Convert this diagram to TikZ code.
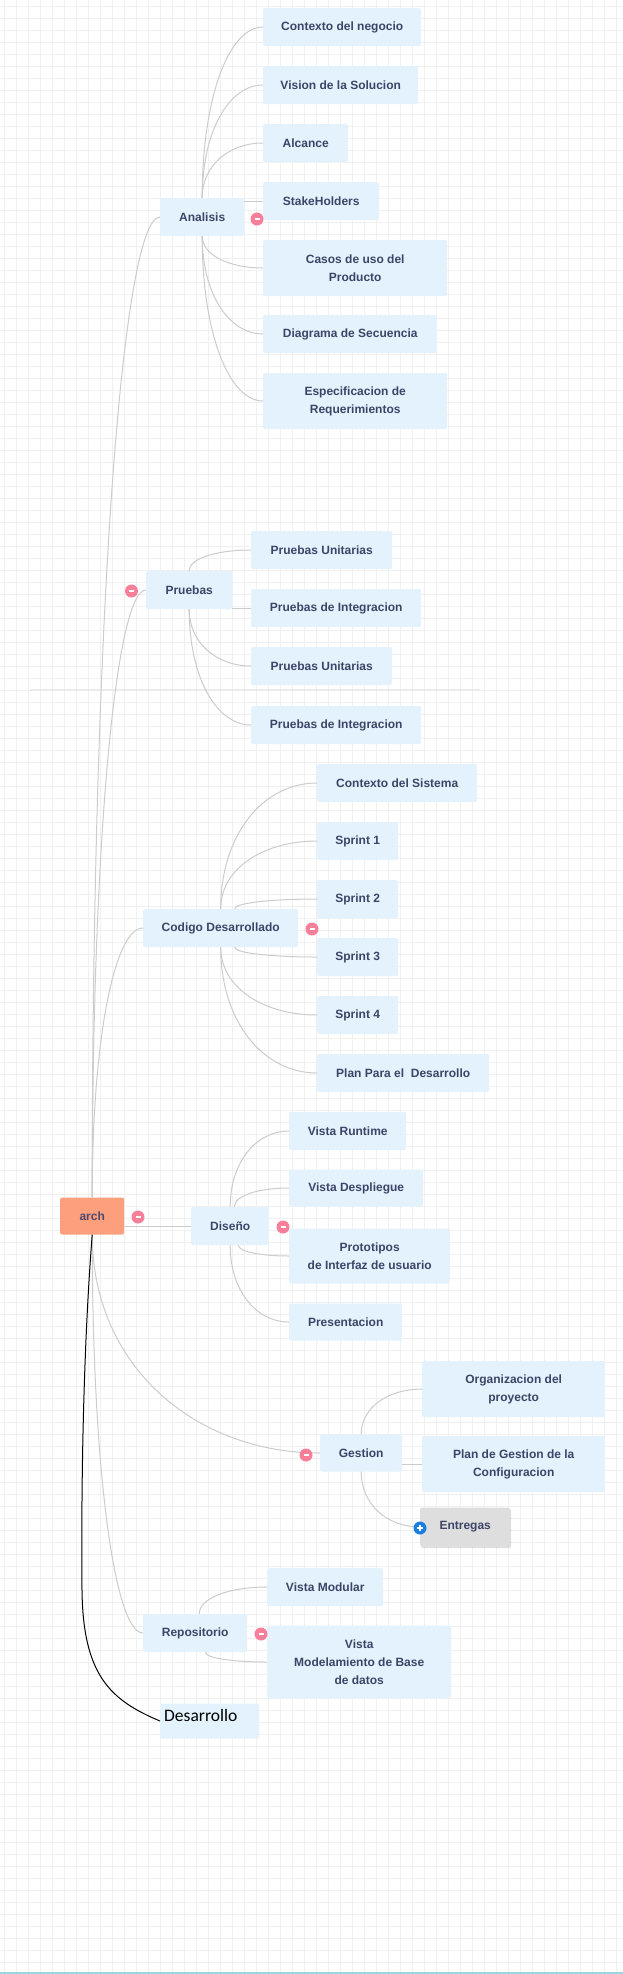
\documentclass[tikz,border=0pt]{standalone}
\usepackage{fontspec}
\setmainfont{Liberation Sans}
\newfontfamily\desfont{Carlito}
\usetikzlibrary{calc,shadows}

\definecolor{topicblue}{HTML}{E3F2FD}
\definecolor{topictext}{HTML}{3C4567}
\definecolor{archtext}{HTML}{4D4A6E}
\definecolor{rootorange}{HTML}{FC9F7C}
\definecolor{linegray}{HTML}{CCCCCC}
\definecolor{gridgray}{HTML}{F0F0F0}
\definecolor{bubblepink}{HTML}{F87F99}
\definecolor{bubbleblue}{HTML}{1A7FE0}
\definecolor{foldgray}{HTML}{DEDEDE}
\definecolor{stripblue}{HTML}{9AD5E5}

\begin{document}
\begin{tikzpicture}[x=1pt, y=-1pt,
    topic/.style={fill=topicblue, text=topictext, font=\bfseries\fontsize{12}{18}\selectfont, align=center, inner sep=0pt, rounded corners=1.5pt, minimum height=38, anchor=west},
    root/.style={topic, fill=rootorange, text=archtext},
    link/.style={draw=linegray, line width=1, to path={.. controls ($(\tikztostart)!0.6!(\tikztostart|-\tikztotarget)$) and ($(\tikztotarget)!0.55!(\tikztostart|-\tikztotarget)$) .. (\tikztotarget)}},
    minus/.style={circle, fill=bubblepink, inner sep=0pt, minimum size=13, path picture={\draw[white, line width=1.3] ([xshift=-2.5pt]path picture bounding box.center) -- ([xshift=2.5pt]path picture bounding box.center);}},
    plus/.style={minus, fill=bubbleblue, path picture={\draw[white, line width=1.3] ([xshift=-3pt]path picture bounding box.center) -- ([xshift=3pt]path picture bounding box.center) ([yshift=-3pt]path picture bounding box.center) -- ([yshift=3pt]path picture bounding box.center);}}]

    \useasboundingbox (0,0) rectangle (623,1974);
    \fill[white] (0,0) rectangle (623,1974);
    \foreach \gx in {0,...,51}
        \draw[gridgray, line width=0.8] (4.4+12*\gx,0) -- (4.4+12*\gx,1974);
    \foreach \gy in {0,...,163}
        \draw[gridgray, line width=0.8] (0,6.3+12*\gy) -- (623,6.3+12*\gy);
    \draw[black!8, line width=1.5] (30,690) -- (480,690);
    \fill[stripblue] (0,1971.5) rectangle (623,1974);

    \node[root, minimum width=64, minimum height=37] (arch) at (60,1216) {arch};

    \node[topic, minimum width=84] (ana) at (160,217) {Analisis};
    \node[topic, minimum width=158] (ctx) at (263,27) {Contexto del negocio};
    \node[topic, minimum width=155] (vis) at (263,85) {Vision de la Solucion};
    \node[topic, minimum width=85] (alc) at (263,143) {Alcance};
    \node[topic, minimum width=116] (stk) at (263,201) {StakeHolders};
    \node[topic, minimum width=184, minimum height=56] (cas) at (263,268) {Casos de uso del\\Producto};
    \node[topic, minimum width=174] (dia) at (263,334) {Diagrama de Secuencia};
    \node[topic, minimum width=184, minimum height=56] (esp) at (263,401) {Especificacion de\\Requerimientos};

    \node[topic, minimum width=86] (pru) at (146,590) {Pruebas};
    \node[topic, minimum width=141] (pu1) at (251,550) {Pruebas Unitarias};
    \node[topic, minimum width=170] (pi1) at (251,608) {Pruebas de Integracion};
    \node[topic, minimum width=141] (pu2) at (251,666) {Pruebas Unitarias};
    \node[topic, minimum width=170] (pi2) at (251,725) {Pruebas de Integracion};

    \node[topic, minimum width=155] (cod) at (143,928) {Codigo Desarrollado};
    \node[topic, minimum width=160] (csis) at (317,783) {Contexto del Sistema};
    \node[topic, minimum width=81] (sp1) at (317,841) {Sprint 1};
    \node[topic, minimum width=81] (sp2) at (317,899) {Sprint 2};
    \node[topic, minimum width=81] (sp3) at (317,957) {Sprint 3};
    \node[topic, minimum width=81] (sp4) at (317,1015) {Sprint 4};
    \node[topic, minimum width=172] (plan) at (317,1073) {Plan Para el \ Desarrollo};

    \node[topic, minimum width=78] (dis) at (191,1226) {Diseño};
    \node[topic, minimum width=117] (vrun) at (289,1131) {Vista Runtime};
    \node[topic, minimum width=134, minimum height=37] (vdes) at (289,1188) {Vista Despliegue};
    \node[topic, minimum width=161, minimum height=55] (proto) at (289,1256) {Prototipos\\de Interfaz de usuario};
    \node[topic, minimum width=113, minimum height=37] (pres) at (289,1322) {Presentacion};

    \node[topic, minimum width=82, minimum height=37] (ges) at (320,1453) {Gestion};
    \node[topic, minimum width=183, minimum height=56] (org) at (422,1389) {Organizacion del\\proyecto};
    \node[topic, minimum width=183, minimum height=56] (pges) at (422,1464) {Plan de Gestion de la\\Configuracion};
    \node[topic, fill=foldgray, minimum width=90, minimum height=39, drop shadow={shadow xshift=1pt, shadow yshift=-1.5pt, opacity=0.25}] (ent) at (420,1527) {Entregas};

    \node[topic, minimum width=104] (rep) at (143,1633) {Repositorio};
    \node[topic, minimum width=116] (vmod) at (267,1587) {Vista Modular};
    \node[topic, minimum width=184, minimum height=73] (vbd) at (267,1662) {Vista\\Modelamiento de Base\\de datos};

    \node[topic, font=\desfont\fontsize{17.5}{21}\selectfont, text=black, align=left, inner xsep=4pt, text width=91, minimum height=35, text depth=12pt] (des) at (160,1721) {Desarrollo};

    \draw[link] (arch.north) to (ana.west);
    \draw[link] (arch.north) to (pru.west);
    \draw[link] (arch.north) to (cod.west);
    \draw[link] (dis.west) -- (dis.west -| arch.east);
    \draw[link] (arch.south) to (ges.west);
    \draw[link] (arch.south) to (rep.west);
    \coordinate (desbend) at (82,1590);
    \draw[black, line width=1] (arch.south) .. controls (84,1340) and (81,1470) .. (desbend) .. controls (83,1675) and (110,1700) .. (des.west);

    \draw[link] (ana.north) to (ctx.west);
    \draw[link] (ana.north) to (vis.west);
    \draw[link] (ana.north) to (alc.west);
    \draw[link] (stk.west) -- (stk.west -| ana.east);
    \draw[link] (ana.south) to (cas.west);
    \draw[link] (ana.south) to (dia.west);
    \draw[link] (ana.south) to (esp.west);

    \draw[link] (pru.north) to (pu1.west);
    \draw[link] (pi1.west) -- (pi1.west -| pru.east);
    \draw[link] (pru.south) to (pu2.west);
    \draw[link] (pru.south) to (pi2.west);

    \draw[link] (cod.north) to (csis.west);
    \draw[link] (cod.north) to (sp1.west);
    \draw[link] (cod.54) to (sp2.west);
    \draw[link] (cod.-54) to (sp3.west);
    \draw[link] (cod.south) to (sp4.west);
    \draw[link] (cod.south) to (plan.west);

    \draw[link] (dis.north) to (vrun.west);
    \draw[link] (dis.78) to (vdes.west);
    \draw[link] (dis.-67) to (proto.west);
    \draw[link] (dis.south) to (pres.west);

    \draw[link] (ges.north) to (org.west);
    \draw[link] (pges.west) -- (pges.west -| ges.east);
    \draw[link] (ges.south) to (ent.west);

    \draw[link] (rep.78) to (vmod.west);
    \draw[link] (rep.-62) to (vbd.west);

    \node[minus] (anaM) at (257,219) {};
    \node[minus] (pruM) at (131.5,591) {};
    \node[minus] (codM) at (312,929) {};
    \node[minus] (archM) at (138,1217) {};
    \node[minus] (disM) at (283,1227) {};
    \node[minus] (gesM) at (306,1455) {};
    \node[minus] (repM) at (261,1634) {};
    \node[plus] (entP) at (420,1528) {};

\end{tikzpicture}
\end{document}
